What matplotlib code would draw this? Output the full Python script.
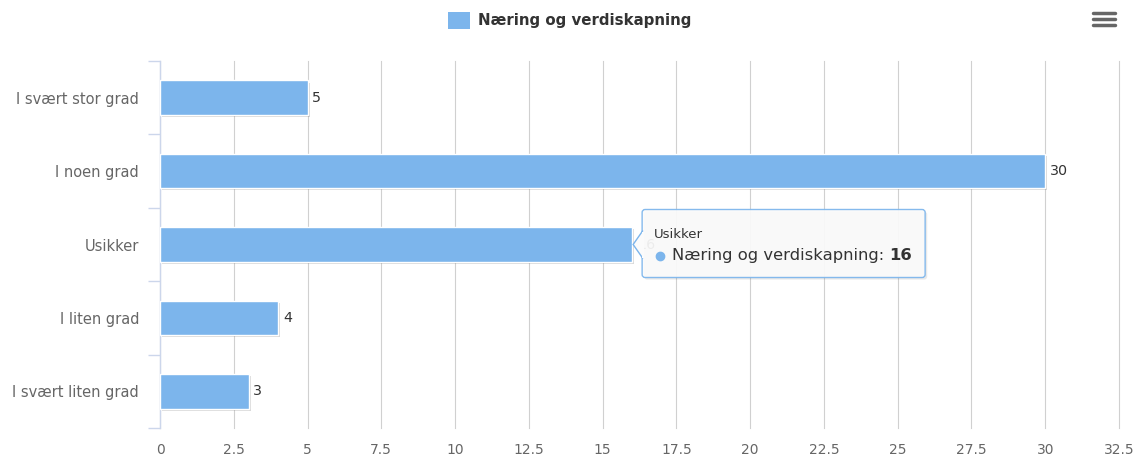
import matplotlib
matplotlib.use("Agg")
from matplotlib import pyplot as plt
from matplotlib import patches, transforms, lines
import matplotlib.patheffects as pe
import numpy as np

categories = ["I svært stor grad", "I noen grad", "Usikker", "I liten grad", "I svært liten grad"]
values = [5, 30, 16, 4, 3]
series_name = "Næring og verdiskapning"
xticks = [0, 2.5, 5, 7.5, 10, 12.5, 15, 17.5, 20, 22.5, 25, 27.5, 30, 32.5]
hover_idx = 2

bar_color = "#7cb5ec"
W, H = 1137, 461

plt.rcParams["font.family"] = ["DejaVu Sans"]

fig = plt.figure(figsize=(W / 100, H / 100), dpi=100)
ax = fig.add_axes([160 / W, 1 - 428 / H, (1119 - 160) / W, (428 - 61) / H])

y = np.arange(len(categories))
bars = ax.barh(y, values, height=0.47, color=bar_color, edgecolor="white", linewidth=1.0,
               zorder=3)
for b in bars:
    b.set_path_effects([pe.SimplePatchShadow(offset=(1.5, -1.5), shadow_rgbFace="#000000",
                                             alpha=0.15), pe.Normal()])

ax.set_xlim(0, 32.5)
ax.set_ylim(len(categories) - 0.5, -0.5)
ax.set_xticks(xticks)
ax.set_xticklabels([("%g" % t) for t in xticks])
ax.set_yticks(y)
ax.set_yticklabels(categories)
ax.set_yticks(np.arange(len(categories) + 1) - 0.5, minor=True)

ax.grid(axis="x", color="#d0d0d0", linewidth=0.8, zorder=0)
for gl in ax.get_xgridlines():
    gl.set_clip_on(False)
for s in ["top", "right", "bottom"]:
    ax.spines[s].set_visible(False)
ax.spines["left"].set_color("#ccd6eb")
ax.spines["left"].set_linewidth(1)

ax.tick_params(axis="x", length=0, pad=11, labelsize=10, labelcolor="#666666")
ax.tick_params(axis="y", which="major", length=0, pad=15, labelsize=10.5, labelcolor="#666666")
ax.tick_params(axis="y", which="minor", length=8.6, width=1, color="#ccd6eb")

# data labels
for yi, v in zip(y, values):
    ax.annotate(str(v), xy=(v, yi), xytext=(3.5, 0), textcoords="offset points",
                va="center", ha="left", fontsize=10.3, color="#333333", zorder=4)

# tooltip
px, py = ax.transData.transform((values[hover_idx], y[hover_idx]))
tr = transforms.Affine2D().translate(px, py)
tip_face = "#fbfbfb"
box = patches.FancyBboxPatch((10, -33), 283, 68, boxstyle="round,pad=0,rounding_size=3",
                             transform=tr, facecolor=tip_face, alpha=0.93,
                             edgecolor=bar_color, linewidth=1, zorder=10)
box.set_path_effects([pe.SimplePatchShadow(offset=(1.5, -1.5), alpha=0.12), pe.Normal()])
ax.add_patch(box)
notch = patches.Polygon([(10.8, 14), (1, 0), (10.8, -14)], closed=False, transform=tr,
                        facecolor=tip_face, edgecolor=bar_color, linewidth=1, zorder=11)
ax.add_patch(notch)
cover = patches.Rectangle((10, -13), 2, 26, transform=tr, facecolor=tip_face,
                          edgecolor="none", zorder=11)
ax.add_patch(cover)
ax.text(22, 10, categories[hover_idx], transform=tr, fontsize=9.5, color="#333333",
        va="center", ha="left", zorder=12)
ax.plot([28], [-11], marker="o", markersize=6, color=bar_color, transform=tr, zorder=12)
t1 = ax.text(40, -11, series_name + ": ", transform=tr, fontsize=11.8, color="#333333",
             va="center", ha="left", zorder=12)
ax.annotate(str(values[hover_idx]), xy=(1, 0.5), xycoords=t1, va="center", ha="left",
            fontsize=11.8, fontweight="bold", color="#333333", zorder=12)

# legend
fig.add_artist(patches.Rectangle((448 / W, 1 - 29 / H), 22 / W, 17 / H,
                                 transform=fig.transFigure, facecolor=bar_color,
                                 edgecolor="none"))
fig.text(478 / W, 1 - 20.5 / H, series_name, fontsize=10.8, fontweight="bold",
         color="#333333", va="center", ha="left")

# menu icon
for yy in [13, 19, 25]:
    fig.add_artist(lines.Line2D([1093 / W, 1115 / W], [1 - yy / H, 1 - yy / H],
                                transform=fig.transFigure, color="#666666", linewidth=2.5,
                                solid_capstyle="round"))

fig.savefig("out.png", dpi=100)
plt.close(fig)
